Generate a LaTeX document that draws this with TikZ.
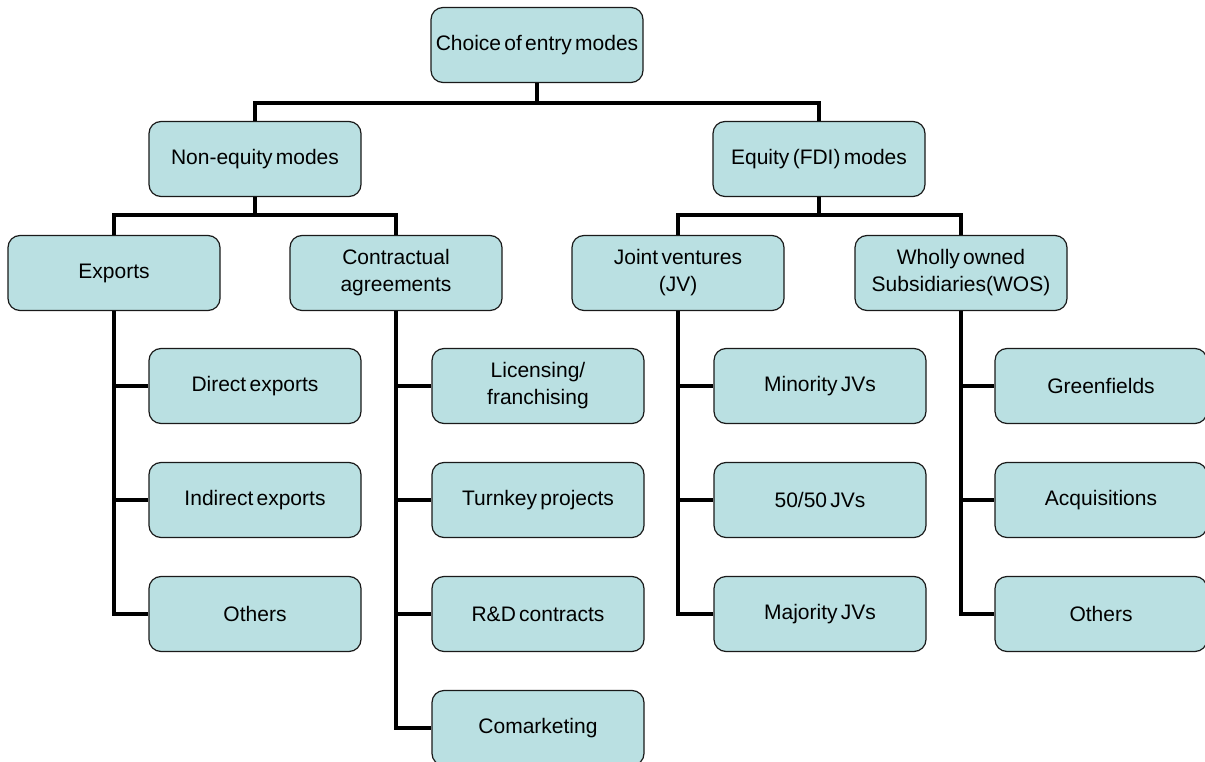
\documentclass[tikz,border=0pt]{standalone}
\usepackage{fontspec}
\setmainfont{Liberation Sans}
\definecolor{boxfill}{HTML}{BAE0E2}
\definecolor{boxline}{HTML}{1A1A1A}
\newcommand{\boxfont}{\fontsize{21}{27}\selectfont\fontdimen2\font=3.3pt\relax}
\begin{document}
\begin{tikzpicture}[x=1pt,y=-1pt,
  box/.style={draw=boxline, line width=1.2pt, fill=boxfill, rounded corners=12pt,
    minimum width=212pt, minimum height=75pt, align=center,
    inner xsep=1pt, inner ysep=2pt, font=\boxfont},
  conn/.style={line width=4pt, black, line join=miter}]
\useasboundingbox (0,0) rectangle (1205,762);
% level 0
\node[box] (root) at (537,45) {Choice of entry modes};
% level 1
\node[box] (ne) at (255,159) {Non-equity modes};
\node[box] (eq) at (819,159) {Equity (FDI) modes};
% level 2
\node[box] (ex) at (114,273) {Exports};
\node[box] (ca) at (396,273) {Contractual\\agreements};
\node[box] (jv) at (678,273) {Joint ventures\\(JV)};
\node[box] (ws) at (961,273) {Wholly owned\\Subsidiaries(WOS)};
% leaves: exports
\node[box] (de) at (255,386) {Direct exports};
\node[box] (ie) at (255,500) {Indirect exports};
\node[box] (eo) at (255,614) {Others};
% leaves: contractual
\node[box] (lf) at (538,386) {Licensing/\\franchising};
\node[box] (tp) at (538,500) {Turnkey projects};
\node[box] (rd) at (538,614) {R\&D contracts};
\node[box] (cm) at (538,728) {Comarketing};
% leaves: JV
\node[box] (mi) at (820,386) {Minority JVs};
\node[box] (ff) at (820,500) {50/50 JVs};
\node[box] (ma) at (820,614) {Majority JVs};
% leaves: WOS
\node[box] (gf) at (1101,386) {Greenfields};
\node[box] (aq) at (1101,500) {Acquisitions};
\node[box] (wo) at (1101,614) {Others};
% bars
\coordinate (b0) at (537,103);
\coordinate (b1) at (255,215);
\coordinate (b2) at (819,215);
\draw[conn] (root.south) -- (b0);
\draw[conn] (ne.north) |- (b0) -| (eq.north);
\draw[conn] (ne.south) -- (b1);
\draw[conn] (ex.north) |- (b1) -| (ca.north);
\draw[conn] (eq.south) -- (b2);
\draw[conn] (jv.north) |- (b2) -| (ws.north);
\draw[conn] (ex.south) |- (de.west);
\draw[conn] (ex.south) |- (ie.west);
\draw[conn] (ex.south) |- (eo.west);
\draw[conn] (ca.south) |- (lf.west);
\draw[conn] (ca.south) |- (tp.west);
\draw[conn] (ca.south) |- (rd.west);
\draw[conn] (ca.south) |- (cm.west);
\draw[conn] (jv.south) |- (mi.west);
\draw[conn] (jv.south) |- (ff.west);
\draw[conn] (jv.south) |- (ma.west);
\draw[conn] (ws.south) |- (gf.west);
\draw[conn] (ws.south) |- (aq.west);
\draw[conn] (ws.south) |- (wo.west);
\end{tikzpicture}
\end{document}
